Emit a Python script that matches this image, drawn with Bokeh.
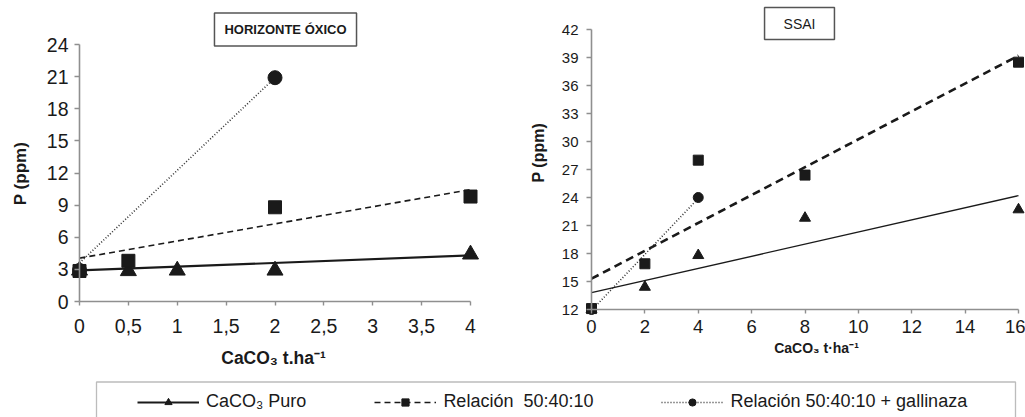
import numpy as np
from bokeh.plotting import figure
from bokeh.models import (Label, Legend, LegendItem, Range1d, FixedTicker, CustomJSTickFormatter,
                          LinearAxis, BoxAnnotation)
from bokeh.embed import file_html
from bokeh.resources import INLINE

# ---------------- data ----------------
# Left panel: HORIZONTE ÓXICO
left_x_puro = [0, 0.5, 1, 2, 4]
left_puro = [2.9, 2.85, 2.9, 2.9, 4.4]
left_x_rel = [0, 0.5, 2, 4]
left_rel = [2.85, 3.8, 8.8, 9.8]
left_x_gal = [0, 2]
left_gal = [2.9, 20.9]
left_trend_x = [0, 4]
left_puro_trend = [2.9, 4.3]
left_rel_trend = [4.05, 10.45]
left_gal_trend_x = [0, 2]
left_gal_trend = [3.6, 20.9]
left_xticks = [0, 0.5, 1, 1.5, 2, 2.5, 3, 3.5, 4]
left_yticks = [0, 3, 6, 9, 12, 15, 18, 21, 24]

# Right panel: SSAI
right_x_puro = [0, 2, 4, 8, 16]
right_puro = [12.0, 14.4, 17.8, 21.8, 22.7]
right_x_rel = [0, 2, 4, 8, 16]
right_rel = [12.1, 16.9, 28.0, 26.4, 38.5]
right_x_gal = [0, 4]
right_gal = [12.0, 24.0]
right_trend_x = [0, 16]
right_puro_trend = [13.8, 24.2]
right_rel_trend = [15.3, 39.2]
right_gal_trend_x = [0, 4]
right_gal_trend = [11.9, 23.9]
right_xticks = [0, 2, 4, 6, 8, 10, 12, 14, 16]
right_yticks = [12, 15, 18, 21, 24, 27, 30, 33, 36, 39, 42]

legend_labels = ["CaCO\u2083 Puro", "Relaci\u00f3n\u00a0\u00a050:40:10", "Relaci\u00f3n 50:40:10 + gallinaza"]

INK = "#1a1a1a"
AXIS = "#8f8f8f"
FONT = "Liberation Sans"
W, H = 1025, 417


# ---------------- layout: pixel anchors of each panel (page pixels) ----------------
def mapper(p0, v0, p1, v1):
    s = (v1 - v0) / (p1 - p0)
    return lambda px: v0 + (px - p0) * s


LX = mapper(79, 0, 470, 4)      # left panel x
LY = mapper(301, 0, 44, 24)     # left panel y (page y downwards)
RX = mapper(591, 0, 1018, 16)   # right panel x
RY = mapper(309, 12, 29, 42)    # right panel y

p = figure(width=W, height=H,
           x_range=Range1d(LX(0), LX(W)), y_range=Range1d(LY(H), LY(0)),
           x_axis_type=None, y_axis_type=None, min_border=0,
           toolbar_location=None, output_backend="svg", title=None)
p.extra_x_ranges = {"r": Range1d(RX(0), RX(W))}
p.extra_y_ranges = {"r": Range1d(RY(H), RY(0))}
p.outline_line_color = None
p.background_fill_color = "white"
p.border_fill_color = "white"


def add_axes(rname, xticks, yticks, xb, yb, xsize, ysize, xstand, ystand, formatter=None):
    kw = {} if rname is None else dict(x_range_name=rname, y_range_name=rname)
    xa = LinearAxis(ticker=FixedTicker(ticks=xticks), fixed_location=yb[0], bounds=xb, **kw)
    ya = LinearAxis(ticker=FixedTicker(ticks=yticks), fixed_location=xb[0], bounds=yb, **kw)
    if formatter is not None:
        xa.formatter = formatter
    for ax in (xa, ya):
        ax.axis_line_color = AXIS
        ax.axis_line_width = 1.6
        ax.major_tick_line_color = AXIS
        ax.major_tick_line_width = 1.4
        ax.major_tick_in = 0
        ax.minor_tick_line_color = None
        ax.major_label_text_font = FONT
        ax.major_label_text_color = INK
    xa.major_tick_out = 4
    ya.major_tick_out = 5
    xa.major_label_text_font_size = xsize
    ya.major_label_text_font_size = ysize
    xa.major_label_standoff = xstand
    ya.major_label_standoff = ystand
    p.add_layout(xa, "below")
    p.add_layout(ya, "left")


add_axes(None, left_xticks, left_yticks, (0, 4), (0, 24), "19.5px", "19.5px", 13, 6,
         CustomJSTickFormatter(code="return tick.toString().replace('.', ',')"))
add_axes("r", right_xticks, right_yticks, (0, 16), (12, 42), "18.5px", "15px", 6, 8)

# ---------------- left panel marks ----------------
l_puro = p.line(left_trend_x, left_puro_trend, line_color=INK, line_width=2.2)
l_rel = p.line(left_trend_x, left_rel_trend, line_color=INK, line_width=1.6, line_dash="6 4")
l_gal = p.line(left_gal_trend_x, left_gal_trend, line_color="#333333", line_width=1.6, line_dash="1 2")
p.scatter(left_x_gal, left_gal, marker="circle", size=14, fill_color=INK, line_color=INK)
p.scatter(left_x_puro, left_puro, marker="triangle", size=16, fill_color=INK, line_color=INK)
p.scatter(left_x_rel, left_rel, marker="square", size=13, fill_color=INK, line_color=INK)

# ---------------- right panel marks ----------------
R = dict(x_range_name="r", y_range_name="r")
p.line(right_trend_x, right_puro_trend, line_color=INK, line_width=1.3, **R)
p.line(right_trend_x, right_rel_trend, line_color=INK, line_width=2.6, line_dash="8 5", **R)
p.line(right_gal_trend_x, right_gal_trend, line_color="#333333", line_width=1.6, line_dash="1 2", **R)
s_gal = p.scatter(right_x_gal, right_gal, marker="circle", size=10, fill_color=INK, line_color=INK, **R)
s_puro = p.scatter(right_x_puro, right_puro, marker="triangle", size=11, fill_color=INK, line_color=INK, **R)
s_rel = p.scatter(right_x_rel, right_rel, marker="square", size=10, fill_color=INK, line_color=INK, **R)

# ---------------- texts ----------------
txt = dict(text_font=FONT, text_color=INK, text_align="center", text_baseline="middle")
p.add_layout(Label(x=LX(285), y=LY(29), text="HORIZONTE \u00d3XICO", text_font_size="13px",
                   text_font_style="bold", border_line_color="#555555", border_line_width=1.5,
                   background_fill_color="white", padding=(10, 9), **txt))
p.add_layout(Label(x=LX(20), y=LY(173), text="P (ppm)", text_font_size="17px",
                   text_font_style="bold", angle=np.pi / 2, **txt))
p.add_layout(Label(x=LX(273), y=LY(357), text="CaCO\u2083 t.ha\u207b\u00b9", text_font_size="17.5px",
                   text_font_style="bold", **txt))

p.add_layout(Label(x=RX(799), y=RY(23), text="SSAI", text_font_size="14px",
                   border_line_color="#555555", border_line_width=1.5,
                   background_fill_color="white", padding=(19, 8), **R, **txt))
p.add_layout(Label(x=RX(538), y=RY(150), text="P  (ppm)", text_font_size="16px",
                   text_font_style="bold", angle=np.pi / 2, **R, **txt))
p.add_layout(Label(x=RX(816), y=RY(347), text="CaCO\u2083 t\u00b7ha\u207b\u00b9", text_font_size="14px",
                   text_font_style="bold", **R, **txt))

# ---------------- legend ----------------
p.add_layout(BoxAnnotation(left=LX(96), right=LX(1015), top=LY(381.5), bottom=LY(440),
                           fill_color=None, fill_alpha=0, line_color="#222222", line_width=1.3))
legend = Legend(items=[LegendItem(label=legend_labels[0], renderers=[l_puro, s_puro]),
                       LegendItem(label=legend_labels[1], renderers=[l_rel, s_rel]),
                       LegendItem(label=legend_labels[2], renderers=[l_gal, s_gal])],
                orientation="horizontal", location=(137, 5), glyph_width=62, glyph_height=18,
                label_standoff=7, spacing=68, padding=0, margin=0,
                border_line_alpha=0, background_fill_alpha=0,
                label_text_font=FONT, label_text_font_size="18px", label_text_color=INK)
p.add_layout(legend)

open("out.html", "w").write(file_html(p, INLINE))
